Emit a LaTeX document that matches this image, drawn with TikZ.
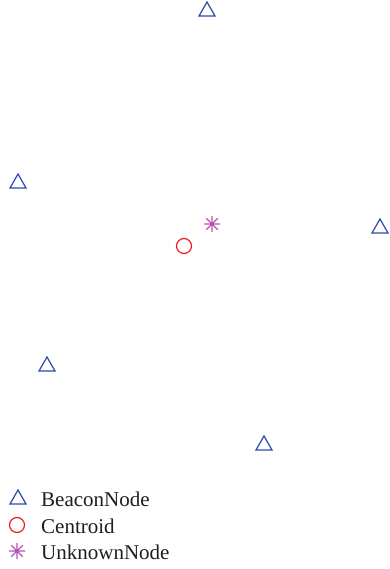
\documentclass[tikz,border=0pt]{standalone}
\usepackage{fontspec}
\setmainfont{Liberation Serif}
\begin{document}
\begin{tikzpicture}[x=1pt,y=-1pt,
  bcol/.style={draw={rgb,255:red,45;green,75;blue,170}, line width=1.2pt},
  ccol/.style={draw={rgb,255:red,235;green,30;blue,30}, line width=1.2pt},
  ucol/.style={draw={rgb,255:red,185;green,80;blue,185}, line width=1.2pt},
  lab/.style={anchor=base west, font=\fontsize{21}{24}\selectfont, text={rgb,255:red,30;green,30;blue,30}, inner sep=0pt}]
\useasboundingbox (0,0) rectangle (389,569);
\newcommand{\mytri}[2]{\draw[bcol] (#1-8,#2+6) -- (#1,#2-8) -- (#1+8,#2+6) -- cycle;}
\newcommand{\myast}[2]{\draw[ucol] (#1-8,#2) -- (#1+8,#2) (#1,#2-8) -- (#1,#2+8) (#1-5.7,#2-5.7) -- (#1+5.7,#2+5.7) (#1-5.7,#2+5.7) -- (#1+5.7,#2-5.7);}
\mytri{207}{10}
\mytri{18}{182}
\mytri{380}{227}
\mytri{47}{365}
\mytri{264}{444}
\draw[ccol] (184,246) circle (7.5);
\myast{212}{224}
% legend
\mytri{18}{498}
\draw[ccol] (17,525) circle (7.5);
\myast{17}{551}
\node[lab] (l1) at (41,506.5) {BeaconNode};
\node[lab] (l2) at (41,533) {Centroid};
\node[lab] (l3) at (41,559) {UnknownNode};
\end{tikzpicture}
\end{document}
